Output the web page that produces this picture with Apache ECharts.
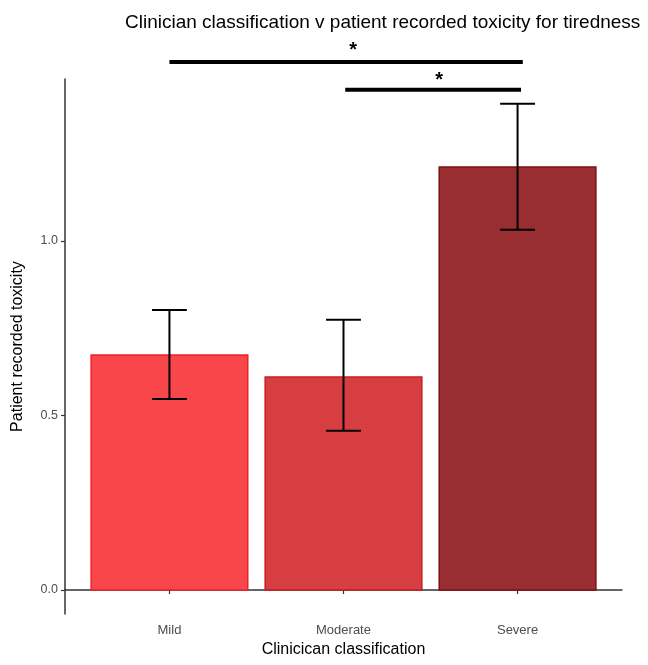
<!DOCTYPE html>
<html>
<head>
<meta charset="utf-8">
<script src="https://cdn.jsdelivr.net/npm/echarts@6/dist/echarts.min.js"></script>
<style>html,body{margin:0;padding:0;background:#fff}#c{width:648px;height:665px}</style>
</head>
<body>
<div id="c"></div>
<script>
var categories = ['Mild', 'Moderate', 'Severe'];
var means = [0.673, 0.610, 1.212];
var errLow = [0.547, 0.456, 1.032];
var errHigh = [0.802, 0.774, 1.393];
var fills = ['#F8464A', '#D73E41', '#982E32'];
var borders = ['#EE2228', '#C91C20', '#7E1014'];
var yTicks = [0, 0.5, 1.0];
// significance brackets: [xStart, xEnd, y, starX, starY]
var sigLines = [[1.0, 3.03, 1.513, 2.055, 1.553], [2.01, 3.02, 1.433, 2.55, 1.467]];

var chart = echarts.init(document.getElementById('c'));
var font = 'Liberation Sans, Arial, sans-serif';

var barData = categories.map(function (c, i) { return [i + 1, means[i], i]; });
var errData = categories.map(function (c, i) { return [i + 1, errLow[i], errHigh[i]]; });

chart.setOption({
  animation: false,
  title: {
    text: 'Clinician classification v patient recorded toxicity for tiredness',
    left: 120, top: 8,
    textStyle: { fontFamily: font, fontSize: 19, fontWeight: 'normal', color: '#000' }
  },
  grid: { left: 65, right: 26, top: 79, bottom: 51 },
  xAxis: {
    type: 'value', min: 0.4, max: 3.6,
    name: 'Clinicican classification', nameLocation: 'middle', nameGap: 27,
    nameTextStyle: { fontFamily: font, fontSize: 16, color: '#000' },
    axisLine: { show: true, lineStyle: { color: '#333', width: 1.5 } },
    axisTick: { show: true, customValues: [1, 2, 3], length: 4, lineStyle: { color: '#333', width: 1.2 } },
    axisLabel: {
      customValues: [1, 2, 3], margin: 10,
      fontFamily: font, fontSize: 13, color: '#4d4d4d',
      formatter: function (v) { return categories[Math.round(v) - 1] || ''; }
    },
    splitLine: { show: false }
  },
  yAxis: {
    type: 'value', min: -0.0688, max: 1.464,
    name: 'Patient recorded toxicity', nameLocation: 'middle', nameGap: 39,
    nameTextStyle: { fontFamily: font, fontSize: 16, color: '#000' },
    axisLine: { show: true, lineStyle: { color: '#333', width: 1.5 } },
    axisTick: { show: true, customValues: yTicks, length: 4, lineStyle: { color: '#333', width: 1.2 } },
    axisLabel: {
      customValues: yTicks, margin: 7,
      fontFamily: font, fontSize: 12.5, color: '#4d4d4d',
      formatter: function (v) { return v.toFixed(1); }
    },
    splitLine: { show: false }
  },
  series: [
    {
      type: 'custom',
      data: barData,
      renderItem: function (params, api) {
        var x = api.value(0), y = api.value(1), i = api.value(2);
        var p0 = api.coord([x - 0.45, 0]);
        var p1 = api.coord([x + 0.45, y]);
        return {
          type: 'rect',
          shape: { x: p0[0], y: p1[1], width: p1[0] - p0[0], height: p0[1] - p1[1] },
          style: { fill: fills[i], stroke: borders[i], lineWidth: 1.5 }
        };
      }
    },
    {
      type: 'custom',
      data: errData,
      z: 5,
      renderItem: function (params, api) {
        var x = api.value(0), lo = api.value(1), hi = api.value(2);
        var a = api.coord([x, lo]), b = api.coord([x, hi]);
        var l1 = api.coord([x - 0.1, lo]), r1 = api.coord([x + 0.1, lo]);
        var l2 = api.coord([x - 0.1, hi]), r2 = api.coord([x + 0.1, hi]);
        var st = { stroke: '#000', lineWidth: 2 };
        return {
          type: 'group',
          children: [
            { type: 'line', shape: { x1: a[0], y1: a[1], x2: b[0], y2: b[1] }, style: st },
            { type: 'line', shape: { x1: l1[0], y1: l1[1], x2: r1[0], y2: r1[1] }, style: st },
            { type: 'line', shape: { x1: l2[0], y1: l2[1], x2: r2[0], y2: r2[1] }, style: st }
          ]
        };
      }
    },
    {
      type: 'custom',
      data: sigLines,
      clip: false,
      z: 6,
      renderItem: function (params, api) {
        var s = api.coord([api.value(0), api.value(2)]);
        var e = api.coord([api.value(1), api.value(2)]);
        var t = api.coord([api.value(3), api.value(4)]);
        return {
          type: 'group',
          children: [
            { type: 'line', shape: { x1: s[0], y1: s[1], x2: e[0], y2: e[1] }, style: { stroke: '#000', lineWidth: 4 } },
            { type: 'text', x: t[0], y: t[1] + 3, style: { text: '*', fontFamily: font, fontSize: 20, fontWeight: 'bold', fill: '#000', align: 'center', verticalAlign: 'middle' } }
          ]
        };
      }
    }
  ]
});
</script>
</body>
</html>
